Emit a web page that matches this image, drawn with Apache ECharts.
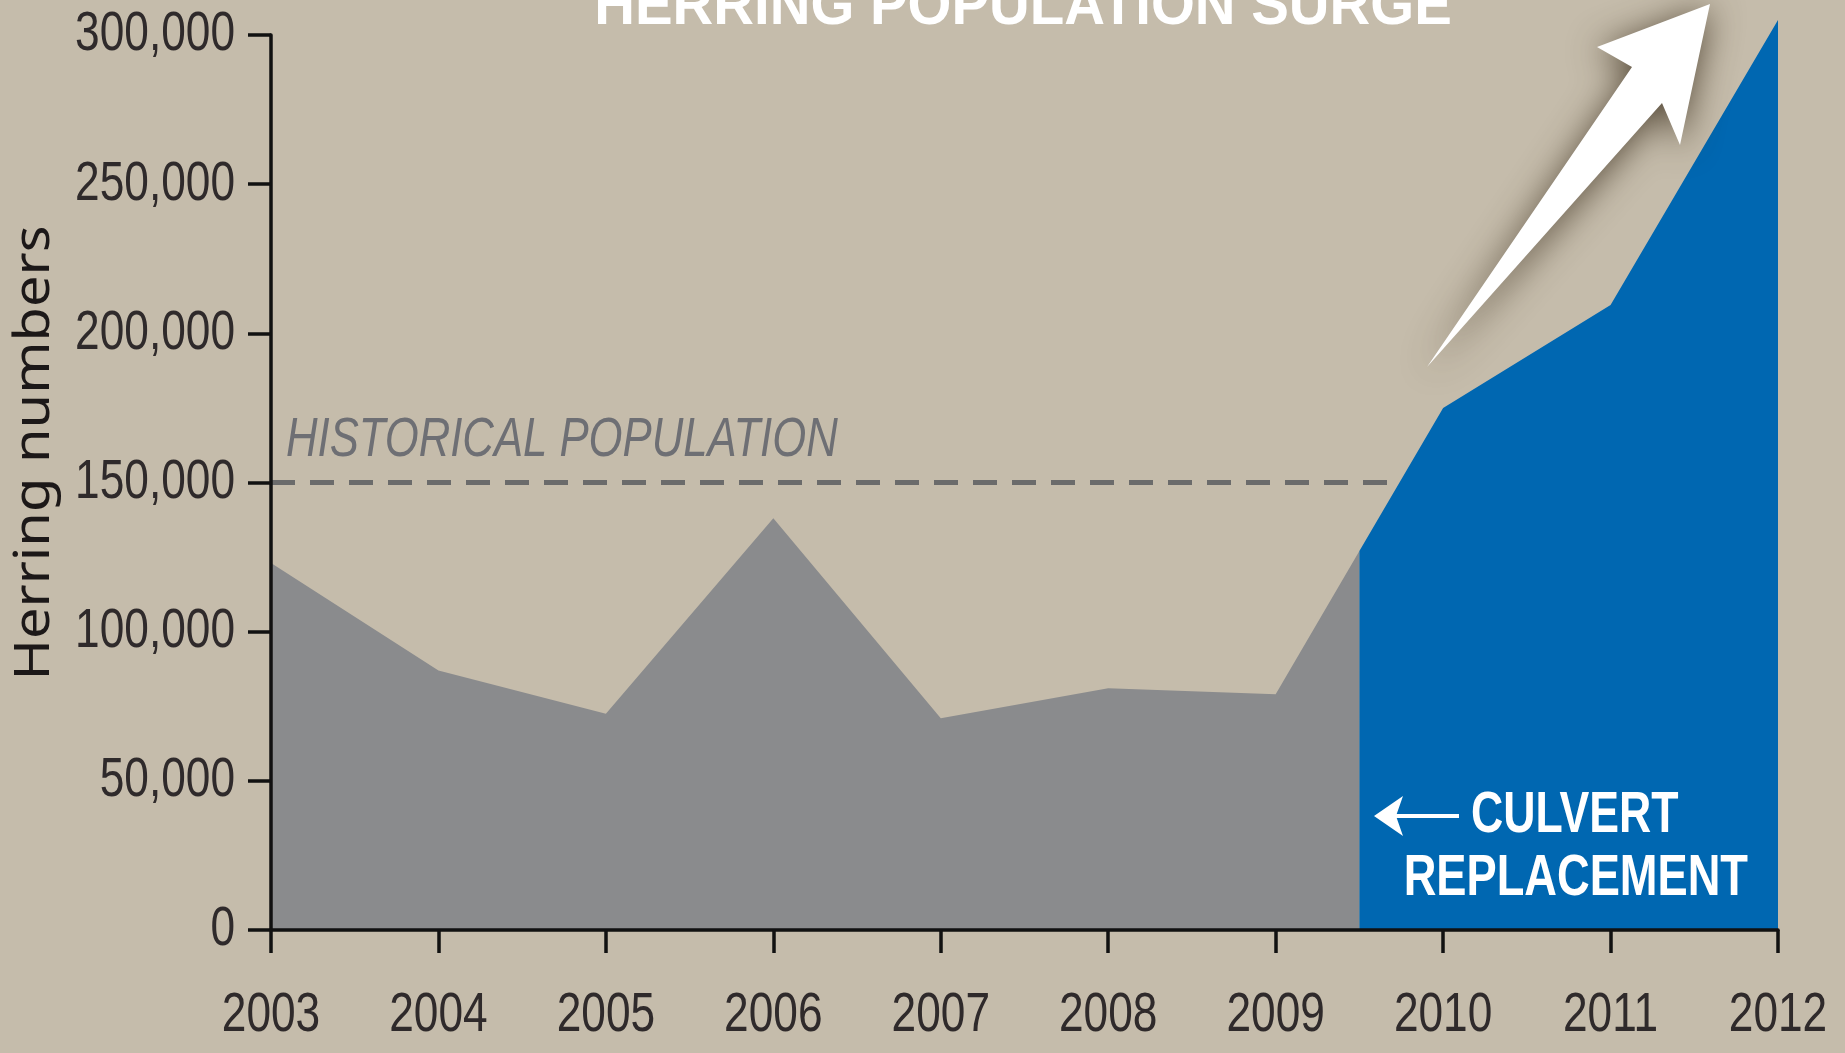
<!DOCTYPE html>
<html>
<head>
<meta charset="utf-8">
<script src="https://cdn.jsdelivr.net/npm/echarts@6/dist/echarts.min.js"></script>
<style>
  html, body { margin: 0; padding: 0; background: #c5bcab; }
  #chart { width: 1845px; height: 1053px; }
</style>
</head>
<body>
<div id="chart"></div>
<script>
// years on the x axis
const years = [2003, 2004, 2005, 2006, 2007, 2008, 2009, 2010, 2011, 2012]
// before the culvert replacement (ends at the split, mid 2009)
const beforeYears = [2003, 2004, 2005, 2006, 2007, 2008, 2009, 2009.5]
const beforeCounts = [123000, 87000, 72500, 138000, 71000, 81000, 79000, 127000]
// after the culvert replacement
const afterYears = [2009.5, 2010, 2011, 2012]
const afterCounts = [127000, 175000, 209500, 305000]
// historical population level
const historical = 150000
const yTicks = [0, 50000, 100000, 150000, 200000, 250000, 300000]
const yTickLabels = ['0', '50,000', '100,000', '150,000', '200,000', '250,000', '300,000']

// the original uses a condensed face, so squeeze Liberation Sans
const face = "'Liberation Sans', Arial, sans-serif"
const squeeze = 0.79

function pairs(xs, ys) {
    let out = []
    for (let i = 0; i < xs.length; i++) {
        out.push([xs[i], ys[i]])
    }
    return out
}

function label(x, y, text, font, fill, align, sx) {
    return {
        type: 'text',
        z: 20,
        x: x, y: y,
        scaleX: sx,
        style: {
            x: 0, y: 0,
            text: text,
            font: font,
            fill: fill,
            textAlign: align,
            textVerticalAlign: 'middle'
        }
    }
}

const chart = echarts.init(document.getElementById('chart'))

const axisLine = { show: true, onZero: false, lineStyle: { color: '#111', width: 3.5 } }
const axisTick = { show: true, length: 23, lineStyle: { color: '#111', width: 3.5 } }

const option = {
    backgroundColor: '#c5bcab',
    animation: false,
    grid: { left: 271, right: 67, top: 35, bottom: 123, outerBoundsMode: 'none', containLabel: false },
    xAxis: {
        type: 'value',
        min: years[0],
        max: years[years.length - 1],
        interval: 1,
        z: 10,
        splitLine: { show: false },
        axisLine: axisLine,
        axisTick: axisTick,
        axisLabel: { show: false }
    },
    yAxis: {
        type: 'value',
        min: yTicks[0],
        max: yTicks[yTicks.length - 1],
        interval: 50000,
        z: 10,
        splitLine: { show: false },
        axisLine: axisLine,
        axisTick: axisTick,
        axisLabel: { show: false }
    },
    series: [
        {
            name: 'historical',
            type: 'line',
            z: 1,
            symbol: 'none',
            silent: true,
            data: [[years[0], historical], [years[years.length - 1], historical]],
            lineStyle: { color: '#6b6b6b', width: 5, type: [24, 15] }
        },
        {
            name: 'before',
            type: 'line',
            z: 2,
            symbol: 'none',
            clip: false,
            data: pairs(beforeYears, beforeCounts),
            lineStyle: { width: 0 },
            areaStyle: { color: '#8a8b8d', opacity: 1 }
        },
        {
            name: 'after',
            type: 'line',
            z: 3,
            symbol: 'none',
            clip: false,
            data: pairs(afterYears, afterCounts),
            lineStyle: { width: 0 },
            areaStyle: { color: '#0067b1', opacity: 1 }
        }
    ]
}

chart.setOption(option)

// tick labels and annotations, placed through the axes
let graphics = []
for (let i = 0; i < yTicks.length; i++) {
    const p = chart.convertToPixel({ gridIndex: 0 }, [years[0], yTicks[i]])
    graphics.push(label(p[0] - 36, p[1], yTickLabels[i], '56px ' + face, '#2f2a2b', 'right', squeeze))
}
for (let i = 0; i < years.length; i++) {
    const p = chart.convertToPixel({ gridIndex: 0 }, [years[i], 0])
    graphics.push(label(p[0], p[1] + 86, String(years[i]), '56px ' + face, '#2f2a2b', 'center', squeeze))
}
const name = label(35, 453, 'Herring numbers', "50px 'Noto Sans', 'Open Sans', sans-serif", '#1c1818', 'center', 1.12)
name.rotation = Math.PI / 2
graphics.push(name)

const hist = chart.convertToPixel({ gridIndex: 0 }, [years[0], historical])
graphics.push(label(hist[0] + 15, hist[1] - 42, 'HISTORICAL POPULATION', 'italic 56px ' + face, '#6e6f74', 'left', 0.78))

graphics.push(label(1023, 7, 'HERRING POPULATION SURGE', 'bold 60px ' + face, '#ffffff', 'center', 0.94))

// big rising arrow
graphics.push({
    type: 'polygon',
    z: 20,
    shape: {
        points: [[1427, 367], [1632, 67], [1597, 47], [1710, 4], [1680, 145], [1662, 103]]
    },
    style: {
        fill: '#ffffff',
        shadowBlur: 34,
        shadowColor: 'rgba(60, 48, 30, 0.8)',
        shadowOffsetX: 0,
        shadowOffsetY: 4
    }
})

// culvert label and its small arrow
graphics.push({
    type: 'line',
    z: 20,
    shape: { x1: 1392, y1: 816, x2: 1459, y2: 816 },
    style: { stroke: '#ffffff', lineWidth: 4 }
})
graphics.push({
    type: 'polygon',
    z: 20,
    shape: { points: [[1374, 816], [1403, 796], [1396, 816], [1403, 836]] },
    style: { fill: '#ffffff' }
})
graphics.push(label(1471, 816, 'CULVERT', 'bold 58px ' + face, '#ffffff', 'left', 0.77))
graphics.push(label(1748, 879, 'REPLACEMENT', 'bold 58px ' + face, '#ffffff', 'right', 0.78))

chart.setOption({ graphic: graphics })

window.addEventListener('resize', () => {
    chart.resize()
})
</script>
</body>
</html>
